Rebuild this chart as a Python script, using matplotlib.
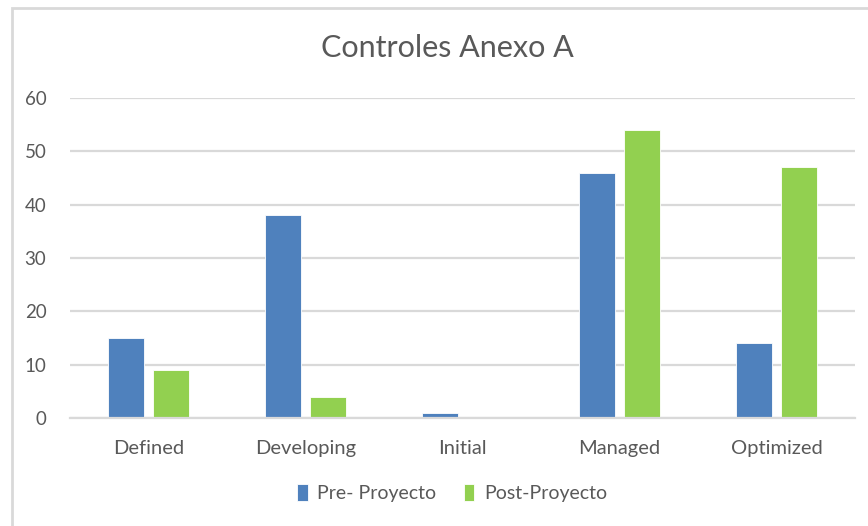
import matplotlib
matplotlib.use("Agg")
import matplotlib.pyplot as plt
from matplotlib.patches import Rectangle
import numpy as np

categories = ["Defined", "Developing", "Initial", "Managed", "Optimized"]
pre_proyecto = [15, 38, 1, 46, 14]
post_proyecto = [9, 4, 0, 54, 47]
series_names = ["Pre- Proyecto", "Post-Proyecto"]
yticks = [0, 10, 20, 30, 40, 50, 60]

plt.rcParams["font.family"] = ["Lato", "DejaVu Sans"]

fig = plt.figure(figsize=(8.68, 5.26), dpi=100)
fig.patch.set_facecolor("white")

# chart frame
fig.patches.append(Rectangle((12 / 868, -0.1), 1.2, 1 - 8 / 526 + 0.1,
                             transform=fig.transFigure, fill=False,
                             edgecolor="#d9d9d9", linewidth=2))

ax = fig.add_axes([70 / 868, 1 - 418 / 526, 785 / 868, 320 / 526])

x = np.arange(len(categories))
w = 0.225
gap = 0.06
ax.bar(x - (w + gap) / 2, pre_proyecto, w, color="#4f81bd",
       edgecolor="white", linewidth=0.6, label=series_names[0], zorder=3)
ax.bar(x + (w + gap) / 2, post_proyecto, w, color="#92d050",
       edgecolor="white", linewidth=0.6, label=series_names[1], zorder=3)

ax.set_xlim(-0.5, len(categories) - 0.5)
ax.set_ylim(0, 60)
ax.set_yticks(yticks)
ax.set_xticks(x)
ax.set_xticklabels(categories)
ax.yaxis.grid(True, color="#d9d9d9", linewidth=1.6, zorder=0)
ax.set_axisbelow(True)
for s in ["top", "right", "left"]:
    ax.spines[s].set_visible(False)
ax.spines["bottom"].set_color("#d9d9d9")
ax.spines["bottom"].set_linewidth(1.6)
ax.spines["bottom"].set_zorder(4)
ax.tick_params(axis="y", length=0, labelsize=13.5, colors="#595959", pad=17)
ax.tick_params(axis="x", length=0, labelsize=14.5, colors="#595959", pad=16)

fig.text(0.515, 1 - 48 / 526, "Controles Anexo A", ha="center", va="center",
         fontsize=22, color="#595959")

leg = fig.legend(loc="center", bbox_to_anchor=(452 / 868, 1 - 493 / 526),
                 ncol=2, frameon=False, fontsize=14, handlelength=0.55,
                 handleheight=1.0, handletextpad=0.5, columnspacing=1.4)
for t in leg.get_texts():
    t.set_color("#595959")

fig.savefig("out.png", dpi=100, facecolor="white")
